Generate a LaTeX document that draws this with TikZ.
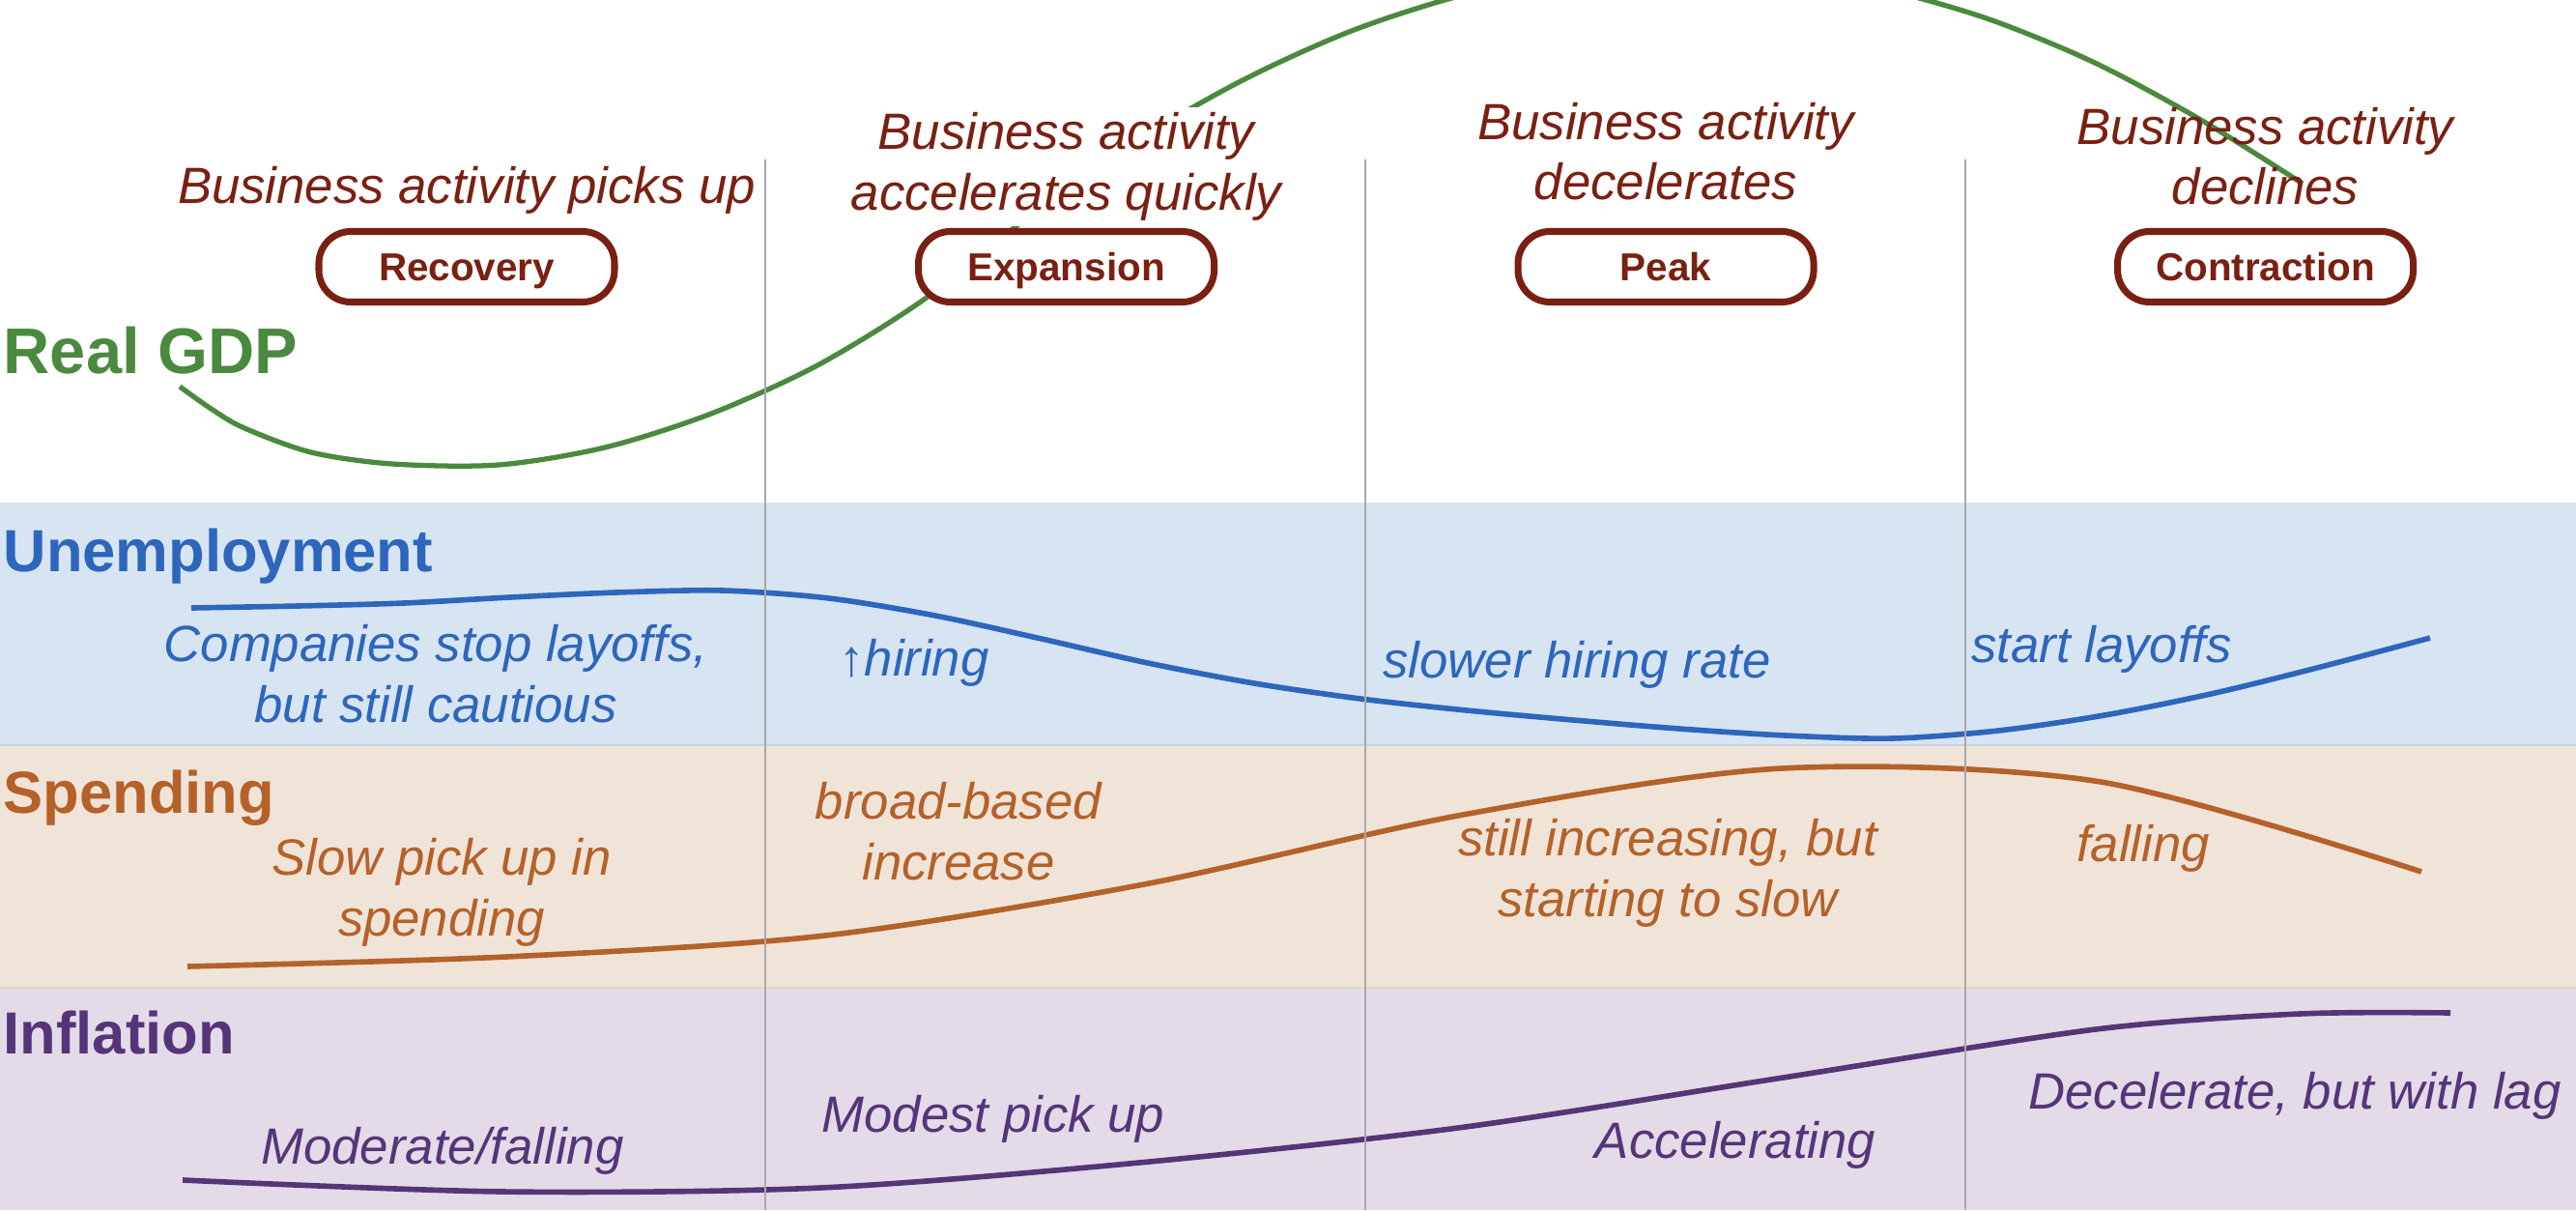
\documentclass[tikz,border=0pt]{standalone}
\usepackage{fontspec}
\setmainfont{Liberation Sans}
\usetikzlibrary{positioning}

\definecolor{phasered}{HTML}{7A2012}
\definecolor{gdpgreen}{HTML}{4A8A3E}
\definecolor{unempblue}{HTML}{2D66BC}
\definecolor{spendorange}{HTML}{B5612A}
\definecolor{inflpurple}{HTML}{55357A}
\definecolor{unempband}{HTML}{D7E4F1}
\definecolor{spendband}{HTML}{F0E4D8}
\definecolor{inflband}{HTML}{E3DBE7}
\definecolor{divider}{HTML}{A8A8A8}

\begin{document}
\begin{tikzpicture}[
    node distance=3.075cm,
    phase/.style={rectangle, draw=phasered, line width=2pt, rounded corners=0.33cm, fill=white, minimum width=3.06cm, minimum height=0.73cm, text=phasered, font=\bfseries\fontsize{11.5}{14}\selectfont, text height=8.3pt, text depth=0pt},
    descr/.style={text=phasered, font=\itshape\fontsize{15}{17.8}\selectfont, align=center, inner sep=0.06cm},
    header/.style={anchor=base west, inner sep=0, font=\bfseries\fontsize{17.5}{20}\selectfont},
    note/.style={anchor=base, inner sep=0, align=center, font=\itshape\fontsize{15}{17.8}\selectfont},
    trend/.style={line width=1.6pt}
]

\useasboundingbox (0,0) rectangle (26.66,-12.52);

% Bands
\fill[unempband] (0,-5.20) rectangle (26.66,-7.71);
\fill[spendband] (0,-7.71) rectangle (26.66,-10.22);
\fill[inflband] (0,-10.22) rectangle (26.66,-12.52);
\draw[line width=0.4pt, color=unempband!80!gray] (0,-7.71) -- (26.66,-7.71);
\draw[line width=0.4pt, color=spendband!85!gray] (0,-10.22) -- (26.66,-10.22);

% Real GDP curve
\draw[trend, gdpgreen, line width=1.5pt] plot[smooth] coordinates {(1.86,-4.00) (2.20,-4.24) (2.53,-4.43) (3.22,-4.68) (4.06,-4.80) (5.16,-4.81) (6.26,-4.63) (7.36,-4.28) (8.46,-3.78) (9.56,-3.10) (10.66,-2.23) (11.76,-1.46) (12.86,-0.83) (13.96,-0.33) (15.06,0.03) (16.16,0.26) (17.26,0.35) (18.36,0.30) (19.46,0.12) (20.56,-0.19) (21.66,-0.64) (22.76,-1.23) (23.83,-1.90)};

% Phases
\node[phase] (rec) at (4.83,-2.76) {Recovery};
\node[phase, right=of rec] (exp) {Expansion};
\node[phase, right=of exp] (peak) {Peak};
\node[phase, right=of peak] (contr) {Contraction};

% Phase descriptions
\node[descr, above=0.08cm of rec] (rec-d) {Business activity picks up};
\node[descr, fill=white, above=0.01cm of exp] (exp-d) {Business activity\\accelerates quickly};
\node[descr, above=0.22cm of peak] (peak-d) {Business activity\\decelerates};
\node[descr, above=0.17cm of contr] (contr-d) {Business activity\\declines};

% Row headers
\node[header, text=gdpgreen, font=\bfseries\fontsize{19}{22}\selectfont] (gdp) at (0.03,-3.86) {Real GDP};
\node[header, text=unempblue] (unemp) at (0.03,-5.91) {Unemployment};
\node[header, text=spendorange] (spend) at (0.03,-8.41) {Spending};
\node[header, text=inflpurple] (infl) at (0.03,-10.90) {Inflation};

% Unemployment
\draw[trend, unempblue] plot[smooth] coordinates {(1.98,-6.29) (3.08,-6.27) (4.18,-6.24) (5.28,-6.18) (6.38,-6.13) (7.48,-6.11) (8.58,-6.19) (9.68,-6.37) (10.78,-6.61) (11.88,-6.86) (12.98,-7.07) (14.08,-7.23) (15.18,-7.35) (16.28,-7.45) (17.38,-7.54) (18.48,-7.61) (19.58,-7.64) (20.68,-7.56) (21.78,-7.40) (22.88,-7.18) (23.98,-6.91) (25.15,-6.60)};
\node[note, text=unempblue] (u1) at (4.51,-7.47) {Companies stop layoffs,\\but still cautious};
\node[note, text=unempblue] (u2) at (9.46,-6.99) {{\upshape ↑}hiring};
\node[note, text=unempblue] (u3) at (16.32,-7.01) {slower hiring rate};
\node[note, text=unempblue] (u4) at (21.75,-6.85) {start layoffs};

% Spending
\draw[trend, spendorange] plot[smooth] coordinates {(1.94,-10.00) (5.24,-9.90) (8.54,-9.68) (11.84,-9.15) (15.14,-8.43) (18.44,-7.95) (21.74,-8.09) (25.06,-9.02)};
\node[note, text=spendorange] (s1) at (4.57,-9.68) {Slow pick up in\\spending};
\node[note, text=spendorange] (s2) at (9.92,-9.10) {broad-based\\increase};
\node[note, text=spendorange] (s3) at (17.26,-9.48) {still increasing, but\\starting to slow};
\node[note, text=spendorange] (s4) at (22.18,-8.91) {falling};

% Inflation
\draw[trend, inflpurple] plot[smooth] coordinates {(1.89,-12.21) (5.19,-12.33) (8.49,-12.29) (11.79,-12.03) (15.09,-11.67) (18.39,-11.16) (21.69,-10.65) (23.80,-10.49) (25.36,-10.48)};
\node[note, text=inflpurple] (i1) at (4.58,-12.04) {Moderate/falling};
\node[note, text=inflpurple] (i2) at (10.28,-11.71) {Modest pick up};
\node[note, text=inflpurple] (i3) at (17.96,-11.98) {Accelerating};
\node[note, text=inflpurple] (i4) at (23.75,-11.47) {Decelerate, but with lag};

% Dividers
\draw[divider, line width=0.8pt] (7.92,-1.65) -- (7.92,-12.52);
\draw[divider, line width=0.8pt] (14.13,-1.65) -- (14.13,-12.52);
\draw[divider, line width=0.8pt] (20.34,-1.65) -- (20.34,-12.52);

\end{tikzpicture}
\end{document}
